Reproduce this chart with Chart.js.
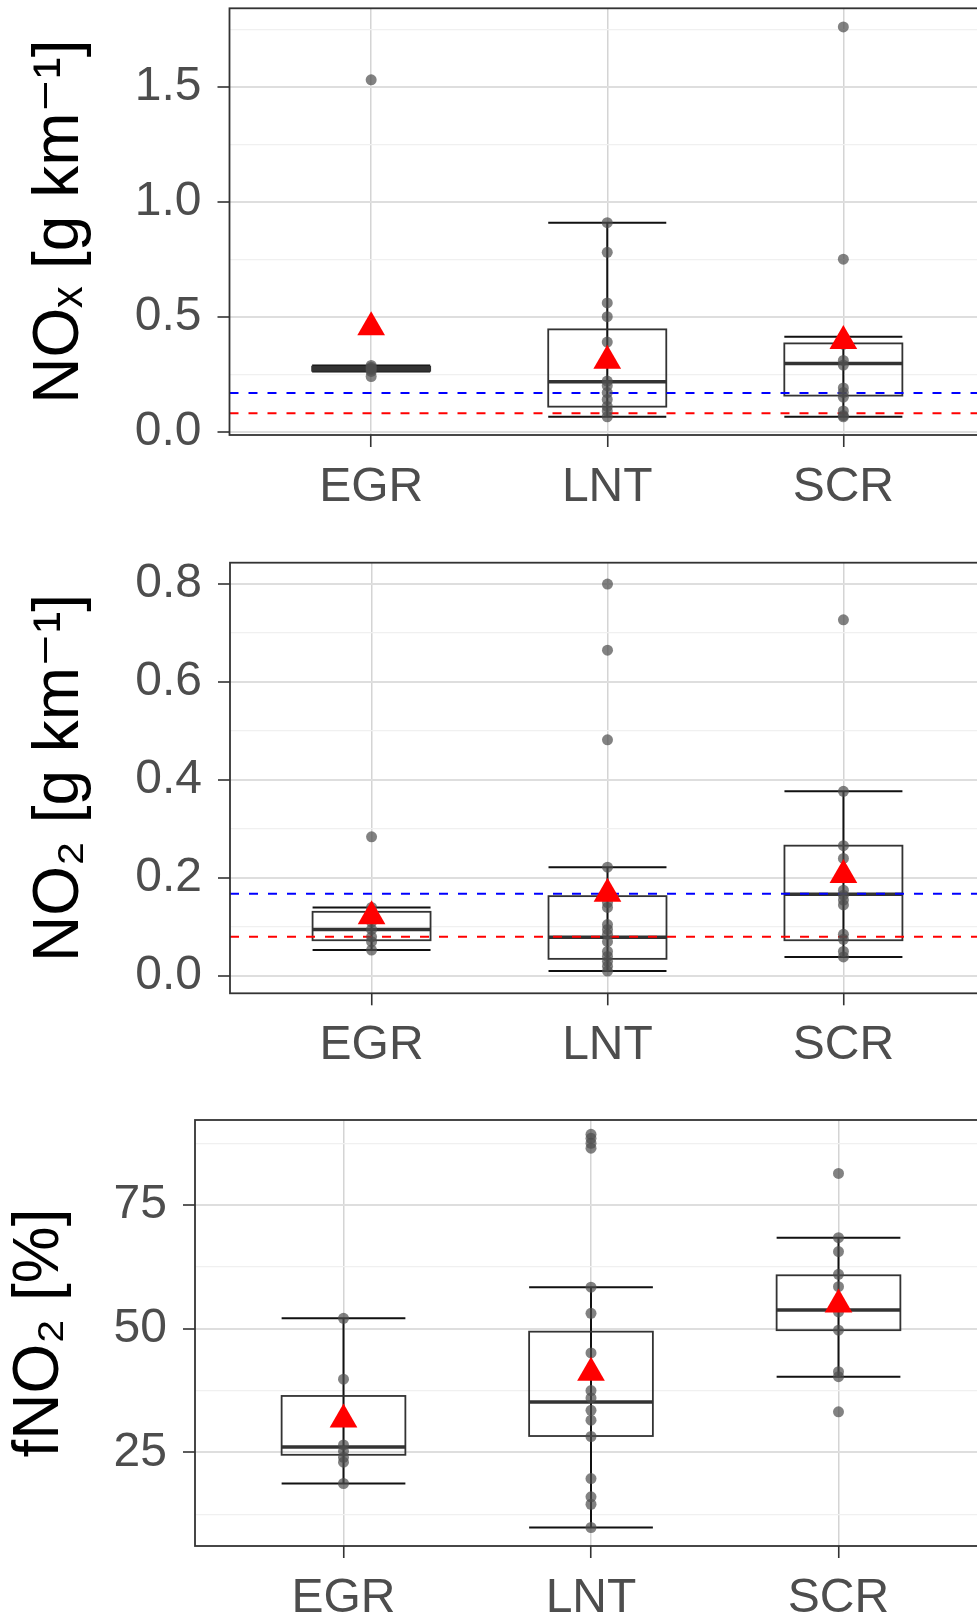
<!DOCTYPE html>
<html>
<head>
<meta charset="utf-8">
<script src="https://cdn.jsdelivr.net/npm/chart.js@4.4.1/dist/chart.umd.min.js"></script>
<style>
html, body { margin: 0; padding: 0; width: 977px; height: 1620px; overflow: hidden; background: #fff; }
.panel { position: absolute; left: 0; }
</style>
</head>
<body>
<div class="panel" style="top:0;width:985px;height:545px"><canvas id="chartNox"></canvas></div>
<div class="panel" style="top:545px;width:985px;height:555px"><canvas id="chartNo2"></canvas></div>
<div class="panel" style="top:1100px;width:987px;height:560px"><canvas id="chartFno2"></canvas></div>
<script>
// === data ===
const groups = ['EGR', 'LNT', 'SCR'];

// limit lines (g/km): blue = 0.168, red = 0.08
const limitValues = [0.168, 0.08];
const limitColors = ['#0000FF', '#FF0000'];

// NOx [g km-1]
const noxLo   = [0.262, 0.065, 0.065];
const noxQ1   = [0.265, 0.109, 0.157];
const noxMed  = [0.275, 0.217, 0.297];
const noxQ3   = [0.283, 0.445, 0.384];
const noxHi   = [0.288, 0.909, 0.413];
const noxMean = [0.454, 0.309, 0.394];
const noxPoints = [
  [1.53, 0.288, 0.28, 0.275, 0.27, 0.262, 0.24],
  [0.909, 0.78, 0.56, 0.50, 0.39, 0.22, 0.20, 0.17, 0.14, 0.11, 0.09, 0.065],
  [1.76, 0.75, 0.413, 0.38, 0.31, 0.29, 0.19, 0.17, 0.15, 0.09, 0.07, 0.065]
];
const noxTicks = [0, 0.5, 1.0, 1.5];
const noxMinor = [0.25, 0.75, 1.25, 1.75];

// NO2 [g km-1]
const no2Lo   = [0.053, 0.010, 0.039];
const no2Q1   = [0.073, 0.035, 0.073];
const no2Med  = [0.095, 0.079, 0.167];
const no2Q3   = [0.131, 0.163, 0.266];
const no2Hi   = [0.140, 0.222, 0.377];
const no2Mean = [0.122, 0.168, 0.206];
const no2Points = [
  [0.284, 0.14, 0.13, 0.11, 0.095, 0.08, 0.07, 0.053],
  [0.80, 0.665, 0.482, 0.222, 0.15, 0.14, 0.105, 0.095, 0.085, 0.07, 0.05, 0.04, 0.03, 0.02, 0.01],
  [0.727, 0.377, 0.266, 0.24, 0.175, 0.165, 0.155, 0.145, 0.085, 0.075, 0.05, 0.039]
];
const no2Ticks = [0, 0.2, 0.4, 0.6, 0.8];
const no2Minor = [0.1, 0.3, 0.5, 0.7];

// fNO2 [%]
const fno2Lo   = [18.7, 9.8, 40.3];
const fno2Q1   = [24.5, 28.3, 49.7];
const fno2Med  = [26.1, 35.2, 53.8];
const fno2Q3   = [36.4, 49.4, 60.8];
const fno2Hi   = [52.1, 58.4, 68.4];
const fno2Mean = [31.65, 41.1, 54.9];
const fno2Points = [
  [52.1, 39.8, 26.5, 25.2, 24.0, 23.0, 18.7],
  [89.3, 88.5, 87.5, 86.5, 58.4, 53.1, 45.1, 37.5, 36, 33.5, 31.5, 28.2, 19.7, 16, 14.5, 9.8],
  [81.4, 68.4, 65.6, 61, 58.5, 55, 53.4, 49.7, 41.3, 40.3, 33.2]
];
const fno2Ticks = [25, 50, 75];
const fno2Minor = [12.5, 37.5, 62.5, 87.5];

const FONT = "'Liberation Sans', Arial, 'DejaVu Sans', sans-serif";
const X_MIN = 0.4, X_MAX = 3.6;

// box + errorbar, drawn under the datasets
const boxPlugin = {
  id: 'boxes',
  beforeDatasetsDraw(chart, args, opts) {
    const { ctx, chartArea, scales: { x, y } } = chart;
    ctx.save();
    ctx.beginPath();
    ctx.rect(chartArea.left, chartArea.top, chartArea.right - chartArea.left, chartArea.bottom - chartArea.top);
    ctx.clip();
    opts.med.forEach((m, i) => {
      const xl = x.getPixelForValue(i + 1 - 0.25);
      const xr = x.getPixelForValue(i + 1 + 0.25);
      const xc = x.getPixelForValue(i + 1);
      const yLo = y.getPixelForValue(opts.lo[i]);
      const yHi = y.getPixelForValue(opts.hi[i]);
      // errorbar
      ctx.strokeStyle = '#111';
      ctx.lineWidth = 2;
      ctx.beginPath();
      ctx.moveTo(xc, yLo); ctx.lineTo(xc, yHi);
      ctx.moveTo(xl, yLo); ctx.lineTo(xr, yLo);
      ctx.moveTo(xl, yHi); ctx.lineTo(xr, yHi);
      ctx.stroke();
      // box
      const yq1 = y.getPixelForValue(opts.q1[i]);
      const yq3 = y.getPixelForValue(opts.q3[i]);
      ctx.strokeStyle = '#333';
      ctx.lineWidth = 1.8;
      ctx.strokeRect(xl, yq3, xr - xl, yq1 - yq3);
      // median
      const ym = y.getPixelForValue(m);
      ctx.lineWidth = 3.5;
      ctx.beginPath();
      ctx.moveTo(xl, ym); ctx.lineTo(xr, ym);
      ctx.stroke();
    });
    ctx.restore();
  }
};

// panel border on top
const framePlugin = {
  id: 'frame',
  afterDraw(chart) {
    const { ctx, chartArea: a } = chart;
    ctx.save();
    ctx.strokeStyle = '#333';
    ctx.lineWidth = 1.8;
    ctx.strokeRect(a.left, a.top, a.right - a.left, a.bottom - a.top);
    ctx.restore();
  }
};

function makePanel(id, p) {
  const isMajor = v => p.ticks.includes(v);
  const datasets = [
    {
      label: 'mean',
      data: p.mean.map((v, i) => ({ x: i + 1, y: v })),
      pointStyle: 'triangle', pointRadius: 16, pointBorderWidth: 0,
      backgroundColor: '#FF0000', borderColor: '#FF0000', order: 0
    },
    {
      label: 'points',
      data: p.points.flatMap((arr, i) => arr.map(v => ({ x: i + 1, y: v }))),
      pointRadius: 5.5, pointBorderWidth: 0,
      backgroundColor: 'rgba(77,77,77,0.7)', order: 1
    }
  ];
  (p.limits || []).forEach((v, k) => {
    datasets.push({
      label: 'limit ' + v,
      type: 'line',
      data: [{ x: X_MIN, y: v }, { x: X_MAX, y: v }],
      borderColor: limitColors[k], borderWidth: 2, borderDash: [9, 10],
      pointRadius: 0, fill: false, order: 2
    });
  });

  return new Chart(document.getElementById(id), {
    type: 'scatter',
    data: { datasets },
    plugins: [boxPlugin, framePlugin],
    options: {
      responsive: true,
      maintainAspectRatio: false,
      animation: false,
      layout: { autoPadding: false, padding: { top: p.padTop, left: 0, right: 0, bottom: 0 } },
      plugins: {
        legend: { display: false },
        tooltip: { enabled: false },
        boxes: { lo: p.lo, q1: p.q1, med: p.med, q3: p.q3, hi: p.hi }
      },
      scales: {
        x: {
          type: 'linear', min: X_MIN, max: X_MAX,
          afterBuildTicks: s => { s.ticks = groups.map((g, i) => ({ value: i + 1 })); },
          afterFit: s => { s.height = p.xHeight; s.paddingLeft = 0; s.paddingRight = 0; },
          ticks: {
            callback: v => groups[v - 1], autoSkip: false, maxRotation: 0,
            color: '#4D4D4D', font: { family: FONT, size: 48 }, padding: 12
          },
          grid: { color: '#D4D4D4', lineWidth: 1.5, tickColor: '#333', tickLength: 12, tickWidth: 1.6 },
          border: { display: false }
        },
        y: {
          min: p.yMin, max: p.yMax,
          afterBuildTicks: s => {
            s.ticks = [...p.ticks, ...p.minor].sort((a, b) => a - b).map(v => ({ value: v }));
          },
          afterFit: s => { s.width = p.axisWidth; s.paddingTop = 0; s.paddingBottom = 0; },
          ticks: {
            callback: v => isMajor(v) ? v.toFixed(p.decimals) : '',
            autoSkip: false, color: '#4D4D4D', font: { family: FONT, size: 48 }, padding: 16
          },
          grid: {
            color: c => (c.tick && isMajor(c.tick.value)) ? '#DEDEDE' : '#F0F0F0',
            lineWidth: c => (c.tick && isMajor(c.tick.value)) ? 2 : 1.3,
            tickColor: c => (c.tick && isMajor(c.tick.value)) ? '#333' : 'rgba(0,0,0,0)',
            tickLength: 12, tickWidth: 1.6
          },
          border: { display: false },
          title: {
            display: true, text: p.title, color: '#000',
            font: { family: FONT, size: 64, lineHeight: 1 },
            padding: { top: p.titlePad, bottom: 0 }
          }
        }
      }
    }
  });
}

makePanel('chartNox', {
  lo: noxLo, q1: noxQ1, med: noxMed, q3: noxQ3, hi: noxHi, mean: noxMean, points: noxPoints,
  ticks: noxTicks, minor: noxMinor, decimals: 1, yMin: -0.0143, yMax: 1.841,
  limits: limitValues, title: 'NOₓ [g km⁻¹]',
  padTop: 8.3, xHeight: 110, axisWidth: 229.5, titlePad: 28.5
});
makePanel('chartNo2', {
  lo: no2Lo, q1: no2Q1, med: no2Med, q3: no2Q3, hi: no2Hi, mean: no2Mean, points: no2Points,
  ticks: no2Ticks, minor: no2Minor, decimals: 1, yMin: -0.0353, yMax: 0.8435,
  limits: limitValues, title: 'NO₂ [g km⁻¹]',
  padTop: 17.7, xHeight: 106.7, axisWidth: 230, titlePad: 28.5
});
makePanel('chartFno2', {
  lo: fno2Lo, q1: fno2Q1, med: fno2Med, q3: fno2Q3, hi: fno2Hi, mean: fno2Mean, points: fno2Points,
  ticks: fno2Ticks, minor: fno2Minor, decimals: 0, yMin: 6.06, yMax: 92.2,
  limits: [], title: 'fNO₂ [%]',
  padTop: 20, xHeight: 114, axisWidth: 195, titlePad: 8.3
});
</script>
</body>
</html>
